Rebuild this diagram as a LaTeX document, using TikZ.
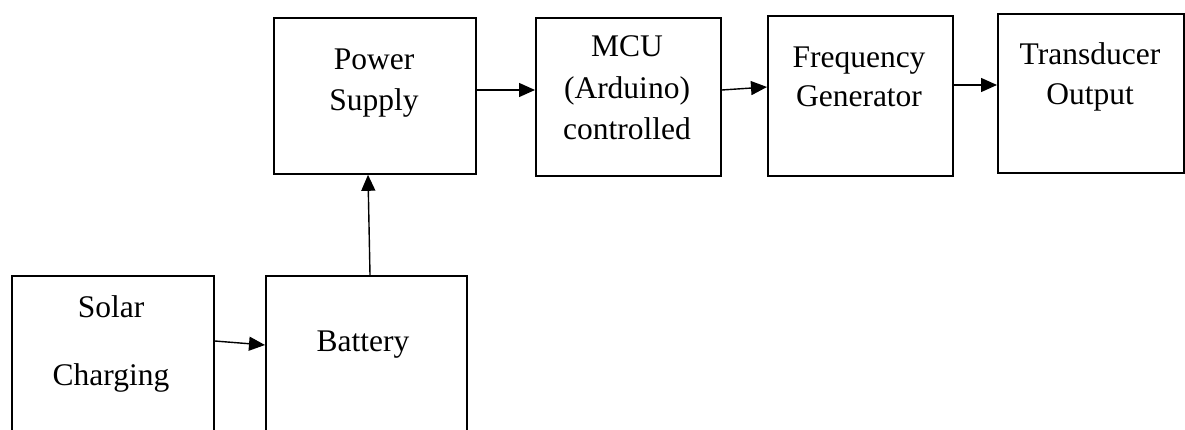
\documentclass[tikz,border=0pt]{standalone}
\usepackage{fontspec}
\setmainfont{Liberation Serif}
\usetikzlibrary{arrows.meta}
\begin{document}
\begin{tikzpicture}[x=1pt,y=-1pt,
  blk/.style={draw=black,line width=1.8pt,rectangle,inner sep=0pt,anchor=north west},
  lbl/.style={anchor=base,inner sep=0pt,font=\fontsize{31.5}{38}\selectfont},
  arr/.style={line width=1.4pt,-{Triangle[length=16pt,width=14pt]}}]
\useasboundingbox[fill=white] (0,0) rectangle (1185,430);
% boxes
\node[blk,minimum width=202pt,minimum height=156pt] (power) at (273,17) {};
\node[blk,minimum width=185pt,minimum height=158pt] (mcu) at (535,17) {};
\node[blk,minimum width=185pt,minimum height=160pt] (freq) at (767,15) {};
\node[blk,minimum width=186pt,minimum height=159pt] (trans) at (997,13) {};
\node[blk,minimum width=202pt,minimum height=200pt] (solar) at (11,275) {};
\node[blk,minimum width=201pt,minimum height=200pt] (battery) at (265,275) {};
% labels
\node[lbl] (tp1) at (374,70) {Power};
\node[lbl] (tp2) at (374,111) {Supply};
\node[lbl] (tm1) at (627,57) {MCU};
\node[lbl] (tm2) at (627,99) {(Arduino)};
\node[lbl] (tm3) at (627,140) {controlled};
\node[lbl] (tf1) at (859,68) {Frequency};
\node[lbl] (tf2) at (859,107) {Generator};
\node[lbl] (tt1) at (1090,65) {Transducer};
\node[lbl] (tt2) at (1090,105) {Output};
\node[lbl] (ts1) at (111,317) {Solar};
\node[lbl] (ts2) at (111,385) {Charging};
\node[lbl] (tb1) at (363,351) {Battery};
% connectors
\draw[arr] (solar.east |- 0,341) -- (battery.west |- 0,345);
\draw[arr] (battery.north -| 370,0) -- (power.south -| 368,0);
\draw[arr] (power.east |- 0,90) -- (mcu.west |- 0,90);
\draw[arr] (mcu.east |- 0,90) -- (freq.west |- 0,87);
\draw[arr] (freq.east |- 0,85) -- (trans.west |- 0,85);
\end{tikzpicture}
\end{document}
